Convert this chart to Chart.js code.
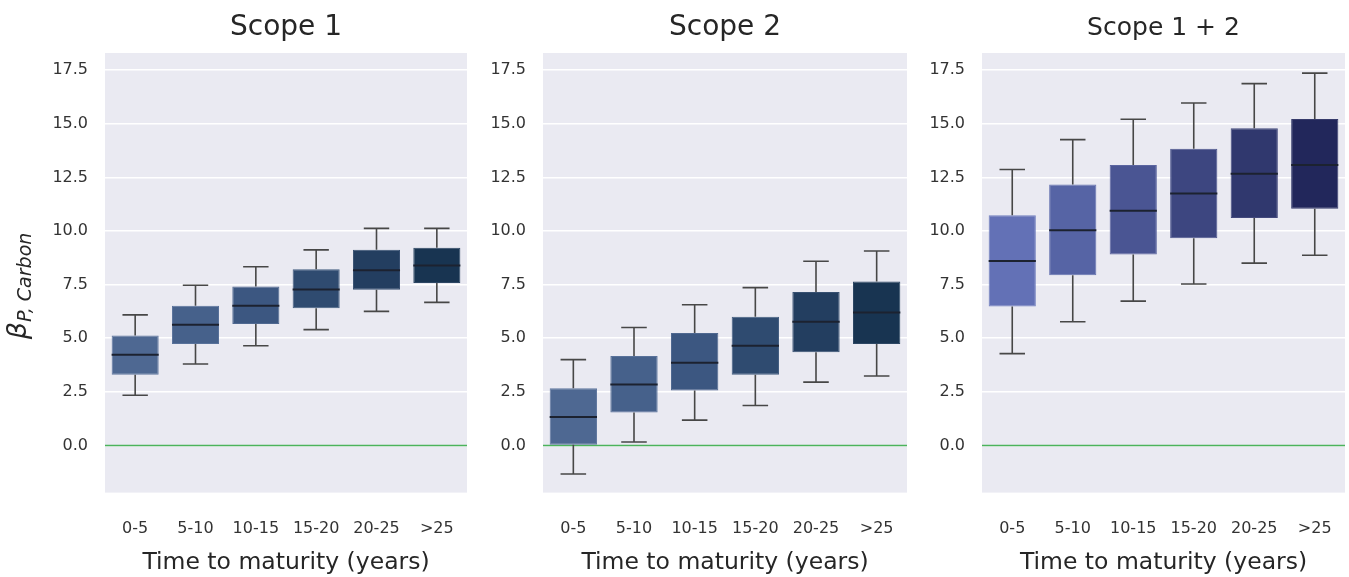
<!DOCTYPE html>
<html>
<head>
<meta charset="utf-8">
<script src="https://cdn.jsdelivr.net/npm/chart.js@4/dist/chart.umd.min.js"></script>
<style>
  body { margin: 0; background: #fff; width: 1349px; height: 577px; overflow: hidden; position: relative; }
  .panel { position: absolute; top: 0; height: 577px; }
</style>
</head>
<body>
<div class="panel" style="left:0;width:470px"><canvas id="scope1"></canvas></div>
<div class="panel" style="left:470px;width:440px"><canvas id="scope2"></canvas></div>
<div class="panel" style="left:910px;width:439px"><canvas id="scope12"></canvas></div>
<script>
// data
const categories = ['0-5', '5-10', '10-15', '15-20', '20-25', '>25'];
const yTicks = [0, 2.5, 5, 7.5, 10, 12.5, 15, 17.5];

// Scope 1: whisker low, q1, median, q3, whisker high
const scope1Low = [2.34, 3.80, 4.65, 5.40, 6.25, 6.67];
const scope1Q1 = [3.30, 4.73, 5.66, 6.40, 7.26, 7.57];
const scope1Median = [4.23, 5.63, 6.51, 7.27, 8.17, 8.39];
const scope1Q3 = [5.13, 6.51, 7.41, 8.22, 9.12, 9.22];
const scope1High = [6.09, 7.47, 8.33, 9.12, 10.12, 10.12];

// Scope 2
const scope2Low = [-1.33, 0.16, 1.18, 1.86, 2.95, 3.24];
const scope2Q1 = [0.03, 1.53, 2.56, 3.30, 4.34, 4.73];
const scope2Median = [1.33, 2.84, 3.85, 4.65, 5.77, 6.20];
const scope2Q3 = [2.67, 4.17, 5.24, 6.00, 7.16, 7.64];
const scope2High = [4.00, 5.50, 6.56, 7.36, 8.59, 9.07];

// Scope 1 + 2
const scope12Low = [4.28, 5.77, 6.73, 7.53, 8.50, 8.87];
const scope12Q1 = [6.48, 7.94, 8.90, 9.66, 10.60, 11.04];
const scope12Median = [8.60, 10.03, 10.94, 11.75, 12.67, 13.08];
const scope12Q3 = [10.73, 12.17, 13.08, 13.83, 14.79, 15.22];
const scope12High = [12.87, 14.26, 15.21, 15.97, 16.87, 17.36];

const bluePalette = ['#4e6892', '#46618b', '#3c5781', '#2f4b70', '#233e60', '#183451'];
const blueEdges = ['#6077a0', '#58719a', '#4f6890', '#435d80', '#375071', '#2c4663'];
const indigoPalette = ['#6371b6', '#5664a5', '#4a5593', '#3d4680', '#30386e', '#22275b'];
const indigoEdges = ['#7280c0', '#6673b0', '#5b65a0', '#4f578e', '#43497d', '#363b6b'];

const FONT = 'DejaVu Sans';

// plot background, zero line and panel title
const backgroundPlugin = {
  id: 'bg',
  beforeDraw(chart) {
    const { ctx, chartArea: a } = chart;
    ctx.save();
    ctx.fillStyle = '#eaeaf2';
    ctx.fillRect(a.left, a.top, a.right - a.left, a.bottom - a.top);
    ctx.restore();
  },
  beforeDatasetsDraw(chart) {
    const { ctx, chartArea: a, scales } = chart;
    const y0 = Math.round(scales.y.getPixelForValue(0)) + 0.5;
    ctx.save();
    ctx.strokeStyle = '#4cb35c';
    ctx.lineWidth = 1.6;
    ctx.beginPath();
    ctx.moveTo(a.left, y0);
    ctx.lineTo(a.right, y0);
    ctx.stroke();
    ctx.restore();
  },
  afterDraw(chart, args, opts) {
    const { ctx, chartArea: a } = chart;
    ctx.save();
    ctx.fillStyle = '#262626';
    ctx.font = opts.size + 'px "' + FONT + '"';
    ctx.textAlign = 'center';
    ctx.textBaseline = 'alphabetic';
    ctx.fillText(opts.title, (a.left + a.right) / 2, 35);
    ctx.restore();
  }
};

// whiskers and medians
const boxPlugin = {
  id: 'boxes',
  afterDatasetsDraw(chart, args, opts) {
    const { ctx, scales } = chart;
    const meta = chart.getDatasetMeta(0);
    ctx.save();
    meta.data.forEach((bar, i) => {
      const x = scales.x.getPixelForValue(i);
      const half = bar.width / 2;
      const cap = bar.width * 0.27;
      const yLo = scales.y.getPixelForValue(opts.low[i]);
      const yQ1 = scales.y.getPixelForValue(opts.q1[i]);
      const yQ3 = scales.y.getPixelForValue(opts.q3[i]);
      const yHi = scales.y.getPixelForValue(opts.high[i]);
      const yMed = scales.y.getPixelForValue(opts.median[i]);
      ctx.strokeStyle = '#474747';
      ctx.lineWidth = 1.6;
      ctx.beginPath();
      ctx.moveTo(x, yQ1); ctx.lineTo(x, yLo);
      ctx.moveTo(x - cap, yLo); ctx.lineTo(x + cap, yLo);
      ctx.moveTo(x, yQ3); ctx.lineTo(x, yHi);
      ctx.moveTo(x - cap, yHi); ctx.lineTo(x + cap, yHi);
      ctx.stroke();
      ctx.strokeStyle = '#1c2230';
      ctx.lineWidth = 2;
      ctx.beginPath();
      ctx.moveTo(x - half, yMed); ctx.lineTo(x + half, yMed);
      ctx.stroke();
    });
    ctx.restore();
  }
};

// y-axis label with subscript
const yLabelPlugin = {
  id: 'ylabel',
  afterDraw(chart, args, opts) {
    if (!opts.show) return;
    const ctx = chart.ctx;
    ctx.save();
    ctx.translate(0, 286);
    ctx.rotate(-Math.PI / 2);
    ctx.fillStyle = '#262626';
    const bigFont = 'italic 27px "' + FONT + '"';
    const subFont = 'italic 19px "' + FONT + '"';
    ctx.font = bigFont;
    const w1 = ctx.measureText('β').width;
    ctx.font = subFont;
    const sub = 'P, Carbon';
    const w2 = ctx.measureText(sub).width;
    const start = -(w1 + w2) / 2;
    ctx.font = bigFont;
    ctx.fillText('β', start, 26);
    ctx.font = subFont;
    ctx.fillText(sub, start + w1, 31);
    ctx.restore();
  }
};

function makePanel(id, title, titleSize, low, q1, median, q3, high, colors, edges, yWidth, rightPad, showYLabel) {
  return new Chart(document.getElementById(id), {
    type: 'bar',
    data: {
      labels: categories,
      datasets: [{
        data: q1.map((v, i) => [v, q3[i]]),
        backgroundColor: colors,
        borderColor: edges,
        borderWidth: 1,
        borderSkipped: false,
        categoryPercentage: 1,
        barPercentage: 0.78
      }]
    },
    options: {
      responsive: true,
      maintainAspectRatio: false,
      animation: false,
      layout: { padding: { left: 0, right: rightPad, top: 53, bottom: 0 } },
      plugins: {
        legend: { display: false },
        tooltip: { enabled: false },
        title: { display: false },
        bg: { title, size: titleSize },
        boxes: { low, q1, median, q3, high },
        ylabel: { show: showYLabel }
      },
      scales: {
        x: {
          grid: { display: true, drawOnChartArea: false, drawTicks: true, tickLength: 26, tickColor: 'rgba(0,0,0,0)' },
          border: { display: false },
          ticks: { color: '#333', font: { family: FONT, size: 16 }, padding: 1 },
          title: {
            display: true,
            text: 'Time to maturity (years)',
            color: '#262626',
            font: { family: FONT, size: 23.5 },
            padding: { top: 9, bottom: 0 }
          }
        },
        y: {
          min: -2.2,
          max: 18.3,
          afterBuildTicks: (scale) => { scale.ticks = yTicks.map(v => ({ value: v })); },
          afterFit: (scale) => { scale.width = yWidth; },
          grid: { color: '#ffffff', lineWidth: 1.5, drawTicks: false },
          border: { display: false },
          ticks: {
            color: '#333',
            font: { family: FONT, size: 16 },
            padding: 17,
            callback: (v) => Number(v).toFixed(1)
          }
        }
      }
    },
    plugins: [backgroundPlugin, boxPlugin, yLabelPlugin]
  });
}

makePanel('scope1', 'Scope 1', 28, scope1Low, scope1Q1, scope1Median, scope1Q3, scope1High, bluePalette, blueEdges, 105, 3, true);
makePanel('scope2', 'Scope 2', 28, scope2Low, scope2Q1, scope2Median, scope2Q3, scope2High, bluePalette, blueEdges, 73, 3, false);
makePanel('scope12', 'Scope 1 + 2', 25, scope12Low, scope12Q1, scope12Median, scope12Q3, scope12High, indigoPalette, indigoEdges, 72, 4, false);
</script>
</body>
</html>
